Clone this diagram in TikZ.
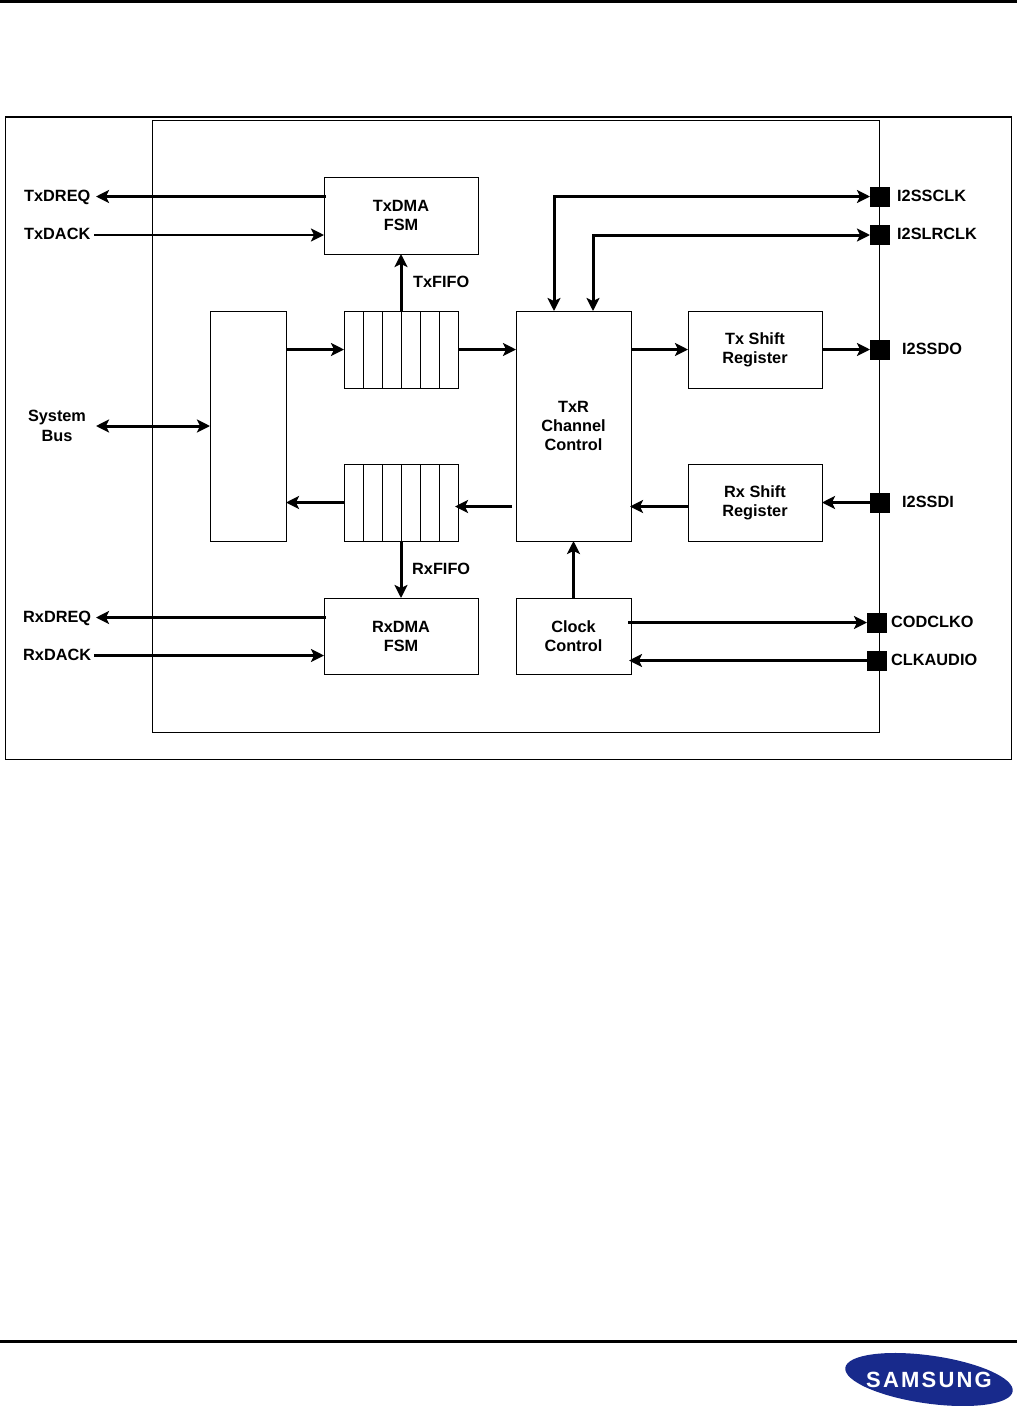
\documentclass[tikz,border=0pt]{standalone}
\usepackage{fontspec}
\setmainfont{Liberation Sans}
\usetikzlibrary{arrows.meta, shapes.geometric, positioning}
\tikzset{
  blockbox/.style={draw, line width=1pt, outer sep=0pt, inner sep=0pt, align=center,
    font=\fontsize{16.3}{19}\selectfont\bfseries},
  padbox/.style={fill=black, outer sep=0pt, inner sep=0pt, minimum size=20},
  sigthick/.style={line width=3pt},
  sigthin/.style={line width=2.4pt},
  pinlabel/.style={inner sep=0pt, anchor=base west, font=\fontsize{16.3}{19}\selectfont\bfseries},
  sidelabel/.style={inner sep=0pt, anchor=base, align=center, font=\fontsize{16.3}{19.5}\selectfont\bfseries}
}
\begin{document}
\begin{tikzpicture}[x=1pt, y=-1pt, >={Stealth[length=13pt, width=13pt, inset=3pt]}]
  \useasboundingbox (0,0) rectangle (1017,1406);
  \draw[line width=3pt] (0,1) -- (1017,1);
  \draw[line width=3pt] (0,1341) -- (1017,1341);
  \draw[line width=1pt] (5.5,117) rectangle (1011,759);
  \draw[line width=2pt] (5,117) -- (1011.5,117);
  \draw[line width=1pt] (152.5,120.5) rectangle (879.5,732.5);

  \node[blockbox, minimum width=154, minimum height=77] (txdma) at (401,215.5) {TxDMA\\FSM};
  \node[blockbox, minimum width=154, minimum height=76] (rxdma) at (401,636) {RxDMA\\FSM};
  \node[blockbox, minimum width=76, minimum height=230] (bus) at (248,426) {};
  \node[blockbox, minimum width=114, minimum height=77] (txfifo) at (401,349.5) {};
  \node[blockbox, minimum width=114, minimum height=77] (rxfifo) at (401,502.5) {};
  \node[blockbox, minimum width=115, minimum height=230] (chan) at (573.5,426) {TxR\\Channel\\Control};
  \node[blockbox, minimum width=134, minimum height=77] (txshift) at (755,349.5) {Tx Shift\\Register};
  \node[blockbox, minimum width=134, minimum height=77] (rxshift) at (755,502.5) {Rx Shift\\Register};
  \node[blockbox, minimum width=115, minimum height=76] (clock) at (573.5,636) {Clock\\Control};
  \foreach \i in {1,...,5} {
    \draw[line width=1pt] (txfifo.north west) ++(19*\i,0) -- ++(0,77);
    \draw[line width=1pt] (rxfifo.north west) ++(19*\i,0) -- ++(0,77);
  }

  \node[padbox] (sclkpad) at (880,196.5) {};
  \node[padbox] (lrclkpad) at (880,235) {};
  \node[padbox] (sdopad) at (880,349.5) {};
  \node[padbox] (sdipad) at (880,502.5) {};
  \node[padbox] (codpad) at (877,622.5) {};
  \node[padbox] (audiopad) at (877,660.5) {};

  \node[pinlabel] (txdreq) at (24,201) {TxDREQ};
  \node[pinlabel] (txdack) at (24,239) {TxDACK};
  \node[pinlabel] (rxdreq) at (23,622) {RxDREQ};
  \node[pinlabel] (rxdack) at (23,660) {RxDACK};
  \node[sidelabel] (sysbus) at (57,441) {System\\Bus};
  \node[pinlabel] (txfifolabel) at (413,287) {TxFIFO};
  \node[pinlabel] (rxfifolabel) at (412,574) {RxFIFO};
  \node[pinlabel] (sclklabel) at (897,201) {I2SSCLK};
  \node[pinlabel] (lrclklabel) at (897,239) {I2SLRCLK};
  \node[pinlabel] (sdolabel) at (902,354) {I2SSDO};
  \node[pinlabel] (sdilabel) at (902,507) {I2SSDI};
  \node[pinlabel] (codlabel) at (891,627) {CODCLKO};
  \node[pinlabel] (audiolabel) at (891,665) {CLKAUDIO};

  \coordinate (txdreqend) at (96,196.5);
  \coordinate (txdackend) at (94,235);
  \coordinate (rxdreqend) at (96,617.5);
  \coordinate (rxdackend) at (94,655.5);
  \coordinate (busend) at (96,426);
  \coordinate (rxrow) at (500,506.5);

  \draw[sigthick, ->] ([xshift=2pt]txdma.west |- txdreqend) -- (txdreqend);
  \draw[sigthin, ->] (txdackend) -- (txdma.west |- txdackend);
  \draw[sigthick, ->] (rxfifo.south) -- (rxdma.north);
  \draw[sigthick, ->] (txfifo.north) -- (txdma.south);
  \draw[sigthick, ->] ([xshift=2pt]rxdma.west |- rxdreqend) -- (rxdreqend);
  \draw[sigthin, ->] (rxdackend) -- (rxdma.west |- rxdackend);
  \draw[sigthick, <->] (busend) -- (bus.west);
  \draw[sigthick, ->] (bus.east |- txfifo.west) -- (txfifo.west);
  \draw[sigthick, ->] (txfifo.east) -- (chan.west |- txfifo.east);
  \draw[sigthick, ->] (chan.east |- txshift.west) -- (txshift.west);
  \draw[sigthick, ->] (txshift.east) -- (sdopad.west);
  \draw[sigthick, ->] (rxfifo.west) -- (bus.east |- rxfifo.west);
  \draw[sigthick, ->] ([xshift=-4pt]chan.west |- rxrow) -- ([xshift=-3pt]rxfifo.east |- rxrow);
  \draw[sigthick, ->] (rxshift.west |- rxrow) -- ([xshift=-1pt]chan.east |- rxrow);
  \draw[sigthick, ->] (sdipad.west) -- (rxshift.east |- sdipad.west);
  \draw[sigthick, ->] (clock.north) -- (chan.south);
  \draw[sigthick, ->] ([xshift=-3pt]clock.east |- codpad.west) -- (codpad.west);
  \draw[sigthin, ->] (audiopad.west) -- ([xshift=-2pt]clock.east |- audiopad.west);
  \draw[sigthick, <->] ([xshift=-19.5pt]chan.north) |- (sclkpad.west);
  \draw[sigthick, <->] ([xshift=19.5pt]chan.north) |- (lrclkpad.west);

  \node[ellipse, fill={rgb,255:red,24;green,42;blue,140}, inner sep=0pt, minimum width=169, minimum height=48, rotate=-8] (logo) at (929,1379.5) {};
  \node[inner sep=0pt, text=white, font=\fontsize{22}{22}\selectfont\bfseries\addfontfeature{LetterSpace=10}] (logotext) at (929,1380) {SAMSUNG};
\end{tikzpicture}
\end{document}
